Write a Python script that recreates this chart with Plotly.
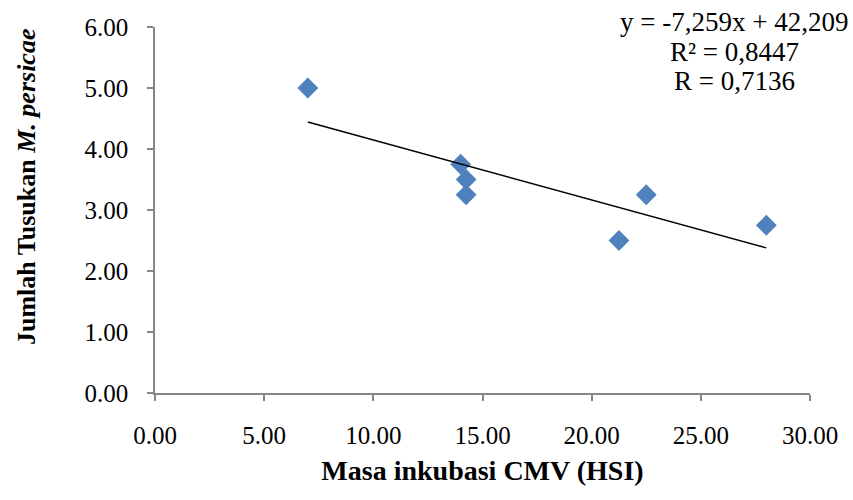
import numpy as np
import plotly.graph_objects as go

# Data
masa_inkubasi = [7.0, 14.0, 14.25, 14.25, 21.25, 22.5, 28.0]
jumlah_tusukan = [5.0, 3.75, 3.5, 3.25, 2.5, 3.25, 2.75]
x_ticks = [0, 5, 10, 15, 20, 25, 30]
y_ticks = [0, 1, 2, 3, 4, 5, 6]
eq_lines = ["y = -7,259x + 42,209", "R² = 0,8447", "R = 0,7136"]

# Linear trendline (least squares fit to the data)
slope, intercept = np.polyfit(masa_inkubasi, jumlah_tusukan, 1)
tx = [min(masa_inkubasi), max(masa_inkubasi)]
ty = [slope * v + intercept for v in tx]

FONT = "Liberation Serif"
L, R, T, B = 155, 43, 27, 107
W, H = 853, 500
PW, PH = W - L - R, H - T - B


def px(xp):
    return (xp - L) / PW


def py(yp):
    return 1 - (yp - T) / PH


fig = go.Figure()
fig.add_trace(go.Scatter(
    x=masa_inkubasi, y=jumlah_tusukan, mode="markers",
    marker=dict(symbol="diamond", size=16, color="#4F81BD",
                line=dict(width=0)),
    showlegend=False, cliponaxis=False))
fig.add_trace(go.Scatter(
    x=tx, y=ty, mode="lines", line=dict(color="black", width=1.5),
    showlegend=False))

for i, line in enumerate(eq_lines):
    fig.add_annotation(
        x=px(734), y=py(22 + 29.5 * i), xref="paper", yref="paper",
        text=line, showarrow=False,
        font=dict(family=FONT, size=27, color="black"),
        xanchor="center", yanchor="middle")

fig.add_annotation(
    x=px(26), y=py(187), xref="paper", yref="paper",
    text="<b>Jumlah Tusukan <i>M. persicae</i></b>", textangle=-90,
    showarrow=False, font=dict(family=FONT, size=26, color="black"),
    xanchor="center", yanchor="middle")

axis_common = dict(
    showgrid=False, zeroline=False, showline=True, linecolor="#868686",
    linewidth=1.5, ticks="outside", ticklen=6, tickcolor="#868686",
    tickwidth=1.5, tickfont=dict(family=FONT, size=25, color="black"),
    tickformat=".2f", automargin=False)

fig.update_layout(
    width=W, height=H,
    margin=dict(l=L, r=R, t=T, b=B),
    paper_bgcolor="white", plot_bgcolor="white",
    xaxis=dict(range=[0, 30], tickvals=x_ticks, ticklabelstandoff=13,
               title=dict(text="<b>Masa inkubasi CMV (HSI)</b>",
                          font=dict(family=FONT, size=28, color="black"),
                          standoff=13),
               **axis_common),
    yaxis=dict(range=[0, 6], tickvals=y_ticks, ticklabelstandoff=14,
               **axis_common),
)

fig.write_html("out.html", config={"displayModeBar": False})
with open("out.html", encoding="utf-8") as f:
    html = f.read()
html = html.replace("<head>", "<head><style>html,body{margin:0;padding:0;overflow:hidden}</style>", 1)
with open("out.html", "w", encoding="utf-8") as f:
    f.write(html)
